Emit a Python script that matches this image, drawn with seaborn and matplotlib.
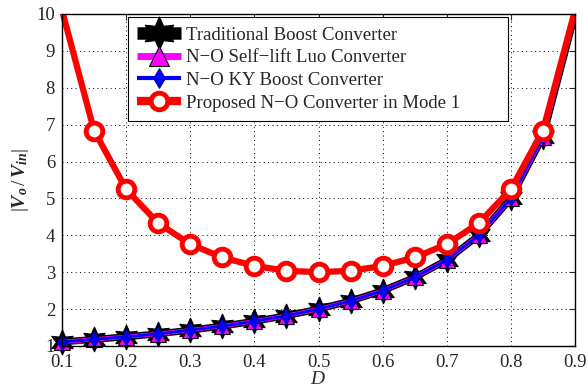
import numpy as np
import pandas as pd
import matplotlib
matplotlib.use("Agg")
import matplotlib.pyplot as plt
from matplotlib.transforms import Bbox, TransformedBbox
import seaborn as sns

D = [0.10, 0.15, 0.20, 0.25, 0.30, 0.35, 0.40, 0.45, 0.50, 0.55, 0.60, 0.65, 0.70, 0.75, 0.80, 0.85, 0.90]
traditional = [1.11, 1.18, 1.25, 1.33, 1.43, 1.54, 1.67, 1.82, 2.00, 2.22, 2.50, 2.86, 3.33, 4.00, 5.00, 6.67, 10.0]
luo = [1.11, 1.18, 1.25, 1.33, 1.43, 1.54, 1.67, 1.82, 2.00, 2.22, 2.50, 2.86, 3.33, 4.00, 5.00, 6.67, 10.0]
ky = [1.11, 1.18, 1.25, 1.33, 1.43, 1.54, 1.67, 1.82, 2.00, 2.22, 2.50, 2.86, 3.33, 4.00, 5.00, 6.67, 10.0]
proposed = [10.1, 6.84, 5.25, 4.33, 3.76, 3.40, 3.17, 3.04, 3.00, 3.04, 3.17, 3.40, 3.76, 4.33, 5.25, 6.84, 10.1]
labels = ["Traditional Boost Converter", "N\u2212O Self\u2212lift Luo Converter",
          "N\u2212O KY Boost Converter", "Proposed N\u2212O Converter in Mode 1"]
x_ticks = [0.1, 0.2, 0.3, 0.4, 0.5, 0.6, 0.7, 0.8, 0.9]
y_ticks = [1, 2, 3, 4, 5, 6, 7, 8, 9, 10]

sns.set_style("white")
plt.rcParams['font.family'] = ['Liberation Serif', 'DejaVu Serif']
plt.rcParams['mathtext.fontset'] = 'custom'
plt.rcParams['mathtext.it'] = 'Liberation Serif:italic'
plt.rcParams['mathtext.bf'] = 'Liberation Serif:bold'
plt.rcParams['mathtext.bfit'] = 'Liberation Serif:bold:italic'
plt.rcParams['mathtext.rm'] = 'Liberation Serif'

fig = plt.figure(figsize=(5.88, 3.87), dpi=100)
ax = fig.add_axes([62/588, 1 - 346/387, (575-62)/588, (346-14)/387])

styles = [
    (traditional, list(range(0, 16)), dict(color='black', lw=5, marker=(6, 1, 0), markersize=18,
                       markerfacecolor='black', markeredgecolor='black')),
    (luo, list(range(0, 16)), dict(color='#ff00ff', lw=3, marker='^', markersize=11,
               markerfacecolor='#ff00ff', markeredgecolor='black', markeredgewidth=0.8)),
    (ky, list(range(0, 16)), dict(color='blue', lw=2, marker='d', markersize=8,
              markerfacecolor='blue', markeredgecolor='#000080', markeredgewidth=0.6)),
    (proposed, list(range(1, 16)), dict(color='red', lw=4.5, marker='o', markersize=12,
                    markerfacecolor='white', markeredgecolor='red', markeredgewidth=3.5)),
]
for (vals, me, kw), lab in zip(styles, labels):
    df = pd.DataFrame({"D": D, "v": vals})
    sns.lineplot(data=df, x="D", y="v", ax=ax, label=lab, markevery=me, **kw)

clipbox = TransformedBbox(Bbox([[-0.2, -0.2], [1.0, 1.0]]), ax.transAxes)
for ln in ax.lines:
    ln.set_clip_on(True)
    ln.set_clip_box(clipbox)

ax.set_xlim(0.1, 0.9)
ax.set_ylim(1.0, 10)
ax.set_xticks(x_ticks)
ax.set_xticklabels([f"{t:.1f}" for t in x_ticks])
ax.set_yticks(y_ticks)
ax.set_yticklabels([str(t) for t in y_ticks])
ax.tick_params(direction='in', top=True, right=True, length=4, labelsize=13.5, width=0.8)
ax.tick_params(axis='x', pad=6)
ax.tick_params(axis='y', pad=5)
ax.grid(True, linestyle=(0, (1, 3.5)), color='black', linewidth=0.7)
for s in ax.spines.values():
    s.set_color('black')
    s.set_linewidth(1.0)
ax.set_xlabel(r"$D$", fontsize=14, labelpad=0)
ax.set_ylabel(r"$|\mathbfit{V_o}\, /\, \mathbfit{V_{in}}|$", fontsize=14, labelpad=4)

x0 = (128 - 62) / 513
w = 380 / 513
top = (346 - 17) / 332
leg = ax.legend(loc='upper left', bbox_to_anchor=(x0, top - 0.5, w, 0.5), mode='expand',
                fontsize=13.5, frameon=True, fancybox=False, edgecolor='black', framealpha=1,
                borderpad=0.5, labelspacing=0.3, handlelength=2.3, handletextpad=0.3,
                borderaxespad=0)
leg.get_frame().set_linewidth(0.8)
hs = leg.legend_handles
hs[0].set_linewidth(9); hs[0].set_markersize(24)
hs[1].set_linewidth(5); hs[1].set_markersize(14)
hs[2].set_linewidth(3); hs[2].set_markersize(10)
hs[3].set_linewidth(6); hs[3].set_markersize(12)
for h in hs:
    h.set_zorder(5)
    h.set_markevery([1])
    h.set_solid_capstyle('butt')

fig.savefig("out.png", dpi=100)
